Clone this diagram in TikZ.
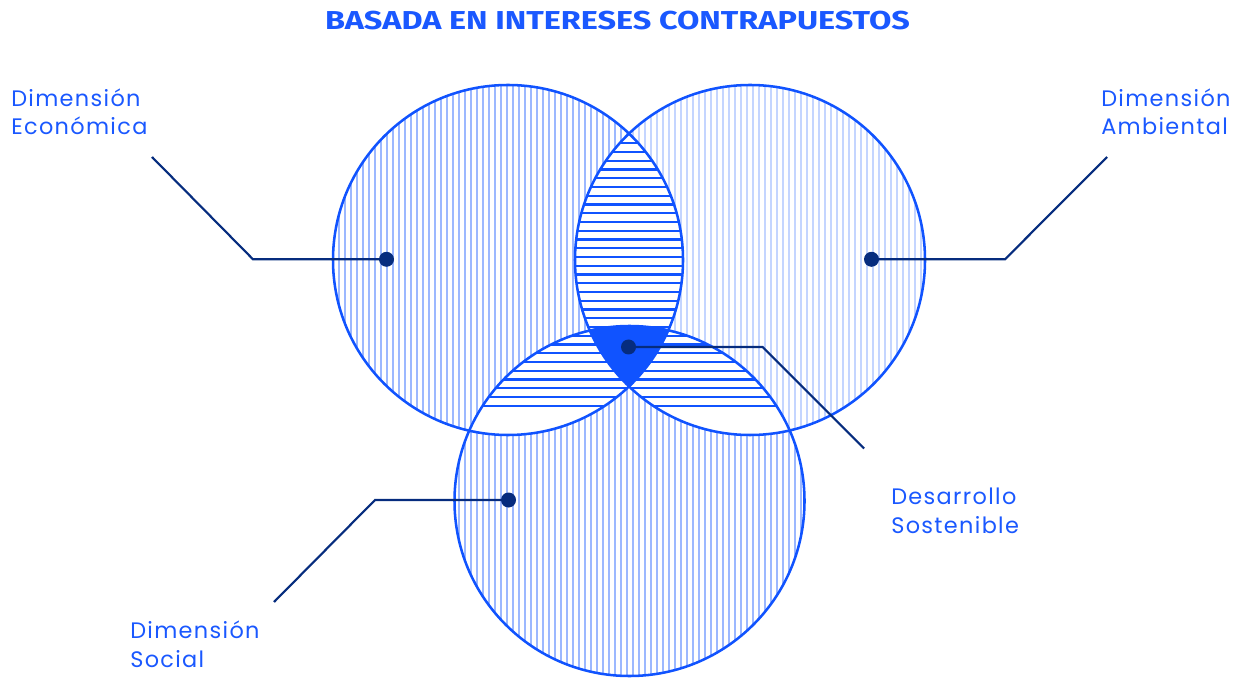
\documentclass[tikz,border=0pt]{standalone}
\usepackage{fontspec}
\setmainfont{Poppins}
\newfontfamily\lblfont{Poppins}[LetterSpace=6]
\newfontfamily\titlefont{Fira Sans}
\definecolor{vblue}{HTML}{1053FF}
\definecolor{tblue}{HTML}{1A58FF}
\definecolor{navy}{HTML}{062C7E}
\definecolor{hatchA}{HTML}{9CB8FF}
\definecolor{hatchB}{HTML}{C4D5FF}
\tikzset{
  vhatch/.style={line width=0.85pt},
  hhatch/.style={vblue, line width=1.7pt},
  ring/.style={draw=vblue, line width=1.9pt},
  conn/.style={navy, line width=1.6pt},
  dot/.style={circle, fill=navy, inner sep=0pt, minimum size=11.25pt},
  lbl/.style={tblue, inner sep=0pt, anchor=base west, font=\lblfont\fontsize{16.8pt}{20pt}\selectfont},
}
\begin{document}
\begin{tikzpicture}[x=0.75pt,y=-0.75pt]
\useasboundingbox (0,0) rectangle (1244,680);
\def\rr{131.25pt}
\coordinate (cL) at (508,260);
\coordinate (cR) at (750,260);
\coordinate (cB) at (629.5,501);
% vertical hatching
\begin{scope}
  \clip (cR) circle[radius=\rr];
  \foreach \x in {573,579,...,927} \draw[vhatch, hatchB] (\x,80) -- (\x,440);
\end{scope}
\begin{scope}
  \clip (cL) circle[radius=\rr];
  \foreach \x in {333,339,...,687} \draw[vhatch, hatchA] (\x,80) -- (\x,440);
\end{scope}
\begin{scope}
  \clip (cB) circle[radius=\rr];
  \foreach \x in {453,459,...,807} \draw[vhatch, hatchA] (\x,320) -- (\x,680);
\end{scope}
% pairwise lenses: horizontal hatching
\begin{scope}
  \clip (cL) circle[radius=\rr];
  \clip (cR) circle[radius=\rr];
  \fill[white] (560,120) rectangle (700,400);
  \foreach \k in {0,...,30} \draw[hhatch] (560,143.3+8.75*\k) -- (700,143.3+8.75*\k);
\end{scope}
\begin{scope}
  \clip (cL) circle[radius=\rr];
  \clip (cB) circle[radius=\rr];
  \fill[white] (440,300) rectangle (700,450);
  \foreach \k in {0,...,30} \draw[hhatch] (440,143.3+8.75*\k) -- (700,143.3+8.75*\k);
\end{scope}
\begin{scope}
  \clip (cR) circle[radius=\rr];
  \clip (cB) circle[radius=\rr];
  \fill[white] (560,300) rectangle (820,450);
  \foreach \k in {0,...,30} \draw[hhatch] (560,143.3+8.75*\k) -- (820,143.3+8.75*\k);
\end{scope}
% triple intersection
\begin{scope}
  \clip (cL) circle[radius=\rr];
  \clip (cR) circle[radius=\rr];
  \clip (cB) circle[radius=\rr];
  \fill[vblue] (560,300) rectangle (700,400);
\end{scope}
% outlines
\draw[ring] (cL) circle[radius=\rr];
\draw[ring] (cR) circle[radius=\rr];
\draw[ring] (cB) circle[radius=\rr];
% connectors
\node[dot] (dE) at (386.5,259.3) {};
\node[dot] (dA) at (871.5,259.3) {};
\node[dot] (dS) at (508.5,500) {};
\node[dot] (dD) at (628.5,347) {};
\coordinate (bE) at (253,259.3);
\coordinate (eE) at (152,157);
\coordinate (bA) at (1005,259.3);
\coordinate (eA) at (1107,157);
\coordinate (bS) at (375,500);
\coordinate (eS) at (274,602);
\coordinate (bD) at (762.5,347);
\coordinate (eD) at (864,448.5);
\draw[conn] (dE.center) -- (bE) -- (eE);
\draw[conn] (dA.center) -- (bA) -- (eA);
\draw[conn] (dS.center) -- (bS) -- (eS);
\draw[conn] (dD.center) -- (bD) -- (eD);
% labels
\node[anchor=base, inner sep=0pt, tblue] (title) at (617.5,29.5)
  {\resizebox{438.75pt}{13.8pt}{\titlefont\bfseries BASADA EN INTERESES CONTRAPUESTOS}};
\node[lbl] (tE1) at (11,106.7) {Dimensión};
\node[lbl] (tE2) at (11,135) {Económica};
\node[lbl] (tA1) at (1101,106.7) {Dimensión};
\node[lbl] (tA2) at (1101,135) {Ambiental};
\node[lbl] (tD1) at (891,504.7) {Desarrollo};
\node[lbl] (tD2) at (891,533) {Sostenible};
\node[lbl] (tS1) at (130,638.7) {Dimensión};
\node[lbl] (tS2) at (130,667) {Social};
\end{tikzpicture}
\end{document}
